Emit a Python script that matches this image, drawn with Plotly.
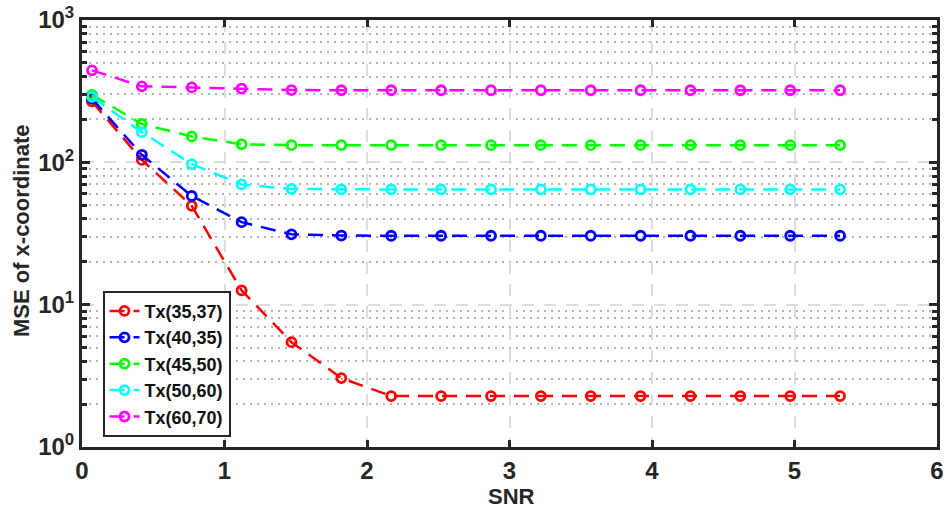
import plotly.graph_objects as go

# SNR sample points
snr = [0.07, 0.42, 0.77, 1.12, 1.47, 1.82, 2.17, 2.52, 2.87, 3.22, 3.57, 3.92, 4.27, 4.62, 4.97, 5.32]

# MSE of x-coordinate for each transmitter position
mse_35_37 = [268, 104, 49.5, 12.6, 5.45, 3.05, 2.28, 2.28, 2.28, 2.28, 2.28, 2.28, 2.28, 2.28, 2.28, 2.28]
mse_40_35 = [280, 113, 58, 38, 31.2, 30.6, 30.5, 30.5, 30.5, 30.5, 30.5, 30.5, 30.5, 30.5, 30.5, 30.5]
mse_45_50 = [298, 186, 152, 134, 132, 132, 132, 132, 132, 132, 132, 132, 132, 132, 132, 132]
mse_50_60 = [288, 163, 97, 70, 65, 64.5, 64.5, 64.5, 64.5, 64.5, 64.5, 64.5, 64.5, 64.5, 64.5, 64.5]
mse_60_70 = [443, 342, 336, 330, 322, 321, 321, 321, 321, 321, 321, 321, 321, 321, 321, 321]

series_names = ["Tx(35,37)", "Tx(40,35)", "Tx(45,50)", "Tx(50,60)", "Tx(60,70)"]
series_values = [mse_35_37, mse_40_35, mse_45_50, mse_50_60, mse_60_70]
series_colors = ["#ff0000", "#0000ff", "#00ff00", "#00ffff", "#ff00ff"]

y_tick_vals = [1, 10, 100, 1000]
y_tick_text = ["<b>10<sup>0</sup></b>", "<b>10<sup>1</sup></b>", "<b>10<sup>2</sup></b>", "<b>10<sup>3</sup></b>"]
y_minor_vals = [m * d for d in (1, 10, 100) for m in range(2, 10)]
x_tick_vals = [0, 1, 2, 3, 4, 5, 6]
x_tick_text = ["<b>%d</b>" % v for v in x_tick_vals]

FONT = "Arial"
INK = "#262626"

fig = go.Figure()
for name, vals, col in zip(series_names, series_values, series_colors):
    fig.add_trace(go.Scatter(
        x=snr, y=vals, name="<b>%s</b>" % name, mode="lines+markers",
        line=dict(color=col, width=2.5, dash="15px,9px"),
        marker=dict(symbol="circle-open", size=9, color=col, line=dict(width=2.8, color=col)),
    ))

fig.update_layout(
    width=949, height=510,
    margin=dict(l=82, r=12, t=20, b=63),
    plot_bgcolor="white", paper_bgcolor="white",
    font=dict(family=FONT, size=16, color=INK),
    showlegend=True,
    legend=dict(
        x=0.024, y=0.366, xanchor="left", yanchor="top",
        bgcolor="white", bordercolor=INK, borderwidth=2,
        font=dict(size=18, color="#111111", family=FONT),
        tracegroupgap=0, itemwidth=30,
    ),
    annotations=[
        dict(text="<b>SNR</b>", xref="paper", yref="paper", x=0.502, y=-0.115,
             xanchor="center", yanchor="middle", showarrow=False,
             font=dict(family=FONT, size=22, color=INK)),
        dict(text="<b>MSE of x-coordinate</b>", xref="paper", yref="paper", x=-0.07, y=0.506,
             xanchor="center", yanchor="middle", showarrow=False, textangle=-90,
             font=dict(family=FONT, size=22, color=INK)),
    ],
)

fig.update_xaxes(
    range=[0, 6], tickvals=x_tick_vals, ticktext=x_tick_text, automargin=False,
    tickfont=dict(family=FONT, size=24, color=INK),
    showline=True, linecolor=INK, linewidth=3, mirror="ticks",
    ticks="inside", ticklen=7, tickwidth=3, tickcolor=INK,
    showgrid=True, gridcolor="#dcdcdc", gridwidth=2, griddash="12px,10px",
    zeroline=False,
)

fig.update_yaxes(
    type="log", range=[0, 3], tickvals=y_tick_vals, ticktext=y_tick_text, automargin=False,
    tickfont=dict(family=FONT, size=24, color=INK),
    showline=True, linecolor=INK, linewidth=3, mirror="ticks",
    ticks="inside", ticklen=8, tickwidth=3, tickcolor=INK,
    showgrid=True, gridcolor="#dcdcdc", gridwidth=2, griddash="12px,10px",
    minor=dict(tickmode="array", tickvals=y_minor_vals,
               ticks="inside", ticklen=5, tickwidth=3, tickcolor=INK,
               showgrid=True, gridcolor="#b4b4b4", gridwidth=2.2, griddash="2px,5px"),
    zeroline=False,
)

fig.write_html("out.html")
